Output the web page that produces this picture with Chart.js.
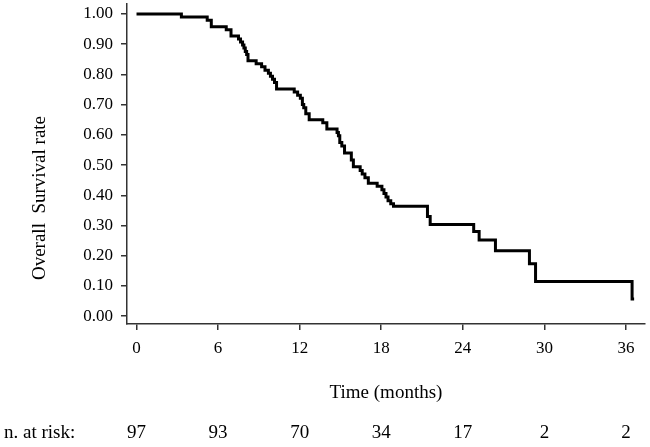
<!DOCTYPE html>
<html>
<head>
<meta charset="utf-8">
<script src="https://cdn.jsdelivr.net/npm/chart.js@4.4.0/dist/chart.umd.min.js"></script>
<style>
html, body { margin: 0; padding: 0; background: #fff; }
#wrap { width: 650px; height: 447px; }
</style>
</head>
<body>
<div id="wrap"><canvas id="km"></canvas></div>
<script>
// Kaplan-Meier steps: time in months, survival after the drop
let months = [0, 3.3, 5.2, 5.5, 6.6, 6.95, 7.5, 7.65, 7.8, 7.9, 8.0, 8.1, 8.2, 8.8, 9.2, 9.45, 9.7, 9.85,
    10.0, 10.15, 10.3, 11.6, 11.85, 12.05, 12.2, 12.3, 12.45, 12.7, 13.7, 14.0, 14.75, 14.85, 14.95, 15.1,
    15.3, 15.8, 15.95, 16.45, 16.6, 16.8, 17.05, 17.7, 18.05, 18.2, 18.35, 18.5, 18.7, 18.9, 21.4, 21.6,
    24.8, 25.2, 26.4, 28.9, 29.35, 36.45, 36.6];
let survival = [1.00, 0.990, 0.979, 0.958, 0.948, 0.927, 0.917, 0.907, 0.897, 0.887, 0.876, 0.866, 0.845,
    0.835, 0.825, 0.814, 0.804, 0.794, 0.784, 0.773, 0.752, 0.742, 0.731, 0.721, 0.700, 0.690, 0.670, 0.650,
    0.640, 0.619, 0.608, 0.597, 0.575, 0.563, 0.540, 0.517, 0.494, 0.482, 0.470, 0.458, 0.440, 0.430, 0.418,
    0.406, 0.394, 0.382, 0.372, 0.364, 0.330, 0.303, 0.280, 0.252, 0.216, 0.173, 0.115, 0.057, 0.057];

let x_ticks = [0, 6, 12, 18, 24, 30, 36];
let y_ticks = [0, 0.1, 0.2, 0.3, 0.4, 0.5, 0.6, 0.7, 0.8, 0.9, 1.0];

let risk_times = [0, 6, 12, 18, 24, 30, 36];
let risk_counts = [97, 93, 70, 34, 17, 2, 2];

const serif = "'Liberation Serif', 'Times New Roman', serif";

// axis titles and the numbers-at-risk row
const extraText = {
    id: "extraText",
    afterDraw(chart) {
        const ctx = chart.ctx;
        const area = chart.chartArea;
        const xs = chart.scales.x;
        ctx.save();
        ctx.fillStyle = "#000";
        ctx.font = "19px " + serif;
        ctx.textBaseline = "middle";
        ctx.textAlign = "center";
        ctx.fillText("Time (months)", (area.left + area.right) / 2, area.bottom + 69);
        risk_times.forEach((t, i) => {
            ctx.fillText(String(risk_counts[i]), xs.getPixelForValue(t), area.bottom + 109);
        });
        ctx.textAlign = "left";
        ctx.fillText("n. at risk:", 4, area.bottom + 109);
        ctx.translate(40, area.top + 194);
        ctx.rotate(-Math.PI / 2);
        ctx.textAlign = "center";
        ctx.fillText("Overall  Survival rate", 0, 0);
        ctx.restore();
    }
};

new Chart(document.getElementById("km"), {
    type: "line",
    data: {
        datasets: [{
            label: "Overall survival",
            data: months.map((m, i) => ({ x: m, y: survival[i] })),
            borderColor: "#000",
            borderWidth: 3,
            pointRadius: 0,
            stepped: "before",
            fill: false
        }]
    },
    options: {
        responsive: true,
        maintainAspectRatio: false,
        animation: false,
        layout: { padding: { top: 4, right: 5, left: 0, bottom: 0 } },
        plugins: {
            legend: { display: false },
            tooltip: { enabled: false }
        },
        scales: {
            x: {
                type: "linear",
                min: -0.7,
                max: 37.4,
                afterBuildTicks: s => { s.ticks = x_ticks.map(v => ({ value: v })); },
                afterFit: s => { s.height = 123; },
                grid: { drawOnChartArea: false, tickLength: 6, color: "#333", lineWidth: 1.5 },
                border: { color: "#333", width: 1.5 },
                ticks: { color: "#000", font: { family: serif, size: 17 }, padding: 8, autoSkip: false, maxRotation: 0 }
            },
            y: {
                type: "linear",
                min: -0.026,
                max: 1.033,
                afterBuildTicks: s => { s.ticks = y_ticks.map(v => ({ value: v })); },
                afterFit: s => { s.width = 127; s.paddingTop = 0; s.paddingBottom = 0; },
                grid: { drawOnChartArea: false, tickLength: 6, color: "#333", lineWidth: 1.5 },
                border: { color: "#333", width: 1.5 },
                ticks: { color: "#000", font: { family: serif, size: 17 }, padding: 8, autoSkip: false,
                    callback: v => v.toFixed(2) }
            }
        }
    },
    plugins: [extraText]
});
</script>
</body>
</html>
